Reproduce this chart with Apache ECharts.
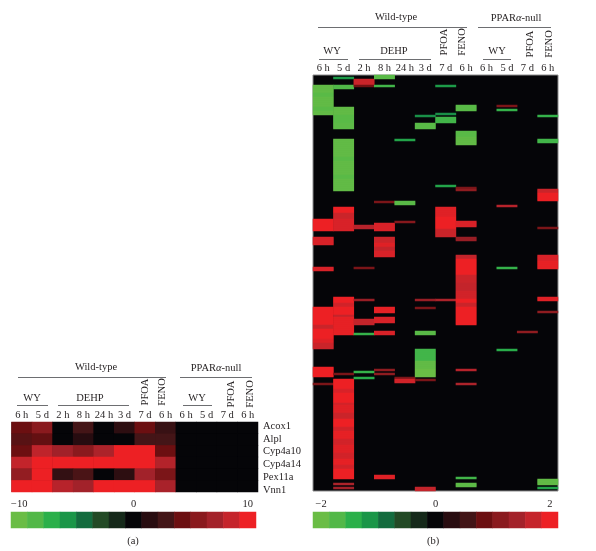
<!DOCTYPE html>
<html>
<head>
<meta charset="utf-8">
<style>
  html, body { margin: 0; padding: 0; background: #fff; }
  #main { width: 596px; height: 551px; }
</style>
</head>
<body>
<div id="main"></div>
<script src="https://cdn.jsdelivr.net/npm/echarts@6/dist/echarts.min.js"></script>
<script>
var timeLabels = ['6 h', '5 d', '2 h', '8 h', '24 h', '3 d', '7 d', '6 h', '6 h', '5 d', '7 d', '6 h'];
var geneLabels = ['Acox1', 'Alpl', 'Cyp4a10', 'Cyp4a14', 'Pex11a', 'Vnn1'];
var rampColors = ['#6abd45', '#52b848', '#2bb04a', '#1a9648', '#136c3e', '#224a25', '#15291a', '#050508',
  '#280c10', '#431517', '#6c0f11', '#8a1a1e', '#a3222a', '#c5242b', '#ed2024'];
var ticksA = ['\u221210', '', '', '', '', '', '', '0', '', '', '', '', '', '', '10'];
var ticksB = ['\u22122', '', '', '', '', '', '', '0', '', '', '', '', '', '', '2'];

// panel (a), the null columns are all zero
var acox1 = [4.3, 5.7, 0, 2.9, 0, 1.7, 4.3, 2.3, 0, 0, 0, 0];
var alpl = [3.6, 4, 0, 1.4, 0, 0, 2.9, 2.9, 0, 0, 0, 0];
var cyp4a10 = [4.3, 8.3, 7, 5.7, 7.5, 10, 10, 4.3, 0, 0, 0, 0];
var cyp4a14 = [8.5, 10, 10, 10, 10, 10, 10, 7.8, 0, 0, 0, 0];
var pex11a = [6.2, 10, 2, 3.1, 0, 1.7, 7.1, 5, 0, 0, 0, 0];
var vnn1 = [10, 10, 8, 7.1, 10, 10, 10, 7.4, 0, 0, 0, 0];

// panel (b), each entry: first row, last row, value
var ROWS_B = 208;
var wy6h = [[5, 8, -1.9], [9, 10, -1.8], [11, 15, -1.9], [16, 17, -1.8], [18, 19, -1.9], [72, 77, 2], [81, 84, 1.85], [96, 97, 1.85],
  [116, 124, 2], [125, 126, 1.75], [127, 131, 2], [132, 133, 1.9], [134, 136, 1.75], [146, 150, 2], [154, 154, 1]];
var wy5d = [[1, 1, -1.2], [5, 6, -1.7], [16, 19, -1.9], [20, 23, -1.8], [24, 26, -1.85], [32, 40, -1.9], [41, 42, -1.8], [43, 49, -1.9],
  [50, 51, -1.8], [52, 57, -1.9], [66, 68, 2], [69, 71, 1.75], [72, 77, 1.85], [111, 113, 2], [114, 115, 1.8], [116, 119, 2], [120, 120, 1.7],
  [121, 129, 1.95], [149, 149, 1], [152, 156, 2], [157, 158, 1.85], [159, 163, 2], [164, 164, 1.8], [165, 168, 1.9], [169, 171, 1.75],
  [172, 175, 2], [176, 177, 1.8], [178, 181, 1.95], [182, 184, 1.8], [185, 188, 1.9], [189, 191, 1.8], [192, 194, 1.95], [195, 196, 1.8],
  [197, 201, 2], [204, 204, 1.5], [206, 206, 1.4]];
var dehp2h = [[2, 4, 1.75], [5, 5, 0.9], [75, 76, 1.6], [96, 96, 1], [112, 112, 1.3], [122, 124, 1.7], [129, 129, -1.5], [148, 148, -1.5], [151, 151, -1.4]];
var dehp8h = [[0, 1, -1.8], [5, 5, -1.6], [63, 63, 1], [74, 77, 1.85], [81, 83, 1.75], [84, 85, 1.9], [86, 87, 1.7], [88, 90, 1.85],
  [116, 118, 1.95], [121, 123, 1.85], [128, 129, 1.85], [147, 147, 1.2], [149, 149, 1.2], [200, 201, 1.9]];
var dehp24h = [[32, 32, -1.3], [63, 64, -1.8], [73, 73, 1.1], [151, 151, 1], [152, 153, 1.8]];
var dehp3d = [[20, 20, -1.1], [24, 26, -1.8], [112, 112, 1.3], [116, 116, 1], [128, 129, -1.8], [137, 142, -1.6], [143, 146, -1.9], [147, 150, -2],
  [152, 152, 1], [206, 207, 1.7]];
var pfoa7d = [[5, 5, -1.2], [19, 19, -1.1], [21, 23, -1.6], [55, 55, -1.3], [66, 70, 1.9], [71, 76, 2], [77, 80, 1.75], [112, 112, 1.5]];
var feno6h = [[15, 17, -1.8], [28, 30, -1.8], [31, 34, -1.9], [56, 56, 1], [57, 57, 1.2], [73, 75, 1.85], [81, 82, 1.3], [90, 91, 1.7], [92, 99, 2],
  [100, 103, 1.75], [104, 107, 1.7], [108, 111, 1.8], [112, 113, 2], [114, 115, 1.75], [116, 124, 2], [147, 147, 1.6], [154, 154, 1.5],
  [201, 201, -1.6], [204, 205, -1.85]];
var null6h = [];
var null5d = [[15, 15, 1], [17, 17, -1.5], [65, 65, 1.6], [96, 96, -1.5], [137, 137, -1.4]];
var nullPfoa = [[128, 128, 1.2]];
var nullFeno = [[20, 20, -1.5], [32, 33, -1.6], [57, 58, 1.75], [59, 62, 2], [76, 76, 1], [90, 92, 1.85], [93, 96, 1.95], [111, 112, 1.9], [118, 118, 1.2],
  [202, 204, -1.9], [206, 206, -1.3]];
var columnsB = [wy6h, wy5d, dehp2h, dehp8h, dehp24h, dehp3d, pfoa7d, feno6h, null6h, null5d, nullPfoa, nullFeno];

var cellsA = [];
[acox1, alpl, cyp4a10, cyp4a14, pex11a, vnn1].forEach(function (row, y) {
  row.forEach(function (v, x) { cellsA.push([x, y, v]); });
});

var cellsB = [];
columnsB.forEach(function (runs, x) {
  runs.forEach(function (run) {
    for (var r = run[0]; r <= run[1]; r++) cellsB.push([x, r, run[2]]);
  });
});

// colour bars, one cell per step of the ramp
function rampCells(max) {
  return rampColors.map(function (c, i) { return [i, 0, -max + i * 2 * max / 14]; });
}

var serif = '"Liberation Serif", serif';
var ink = '#231f20';
var rowsB = [];
for (var r = 0; r < ROWS_B; r++) rowsB.push(r);

function hiddenAxis(grid, type, labels) {
  return {
    type: type, gridIndex: grid, data: labels, inverse: type === 'category',
    axisLine: { show: false }, axisTick: { show: false }, splitLine: { show: false },
    axisLabel: { show: false }
  };
}
function timeAxis(grid) {
  return {
    type: 'category', gridIndex: grid, position: 'top', data: timeLabels,
    axisLine: { show: false }, axisTick: { show: false }, splitLine: { show: false },
    axisLabel: { interval: 0, margin: 1.5, fontFamily: serif, fontSize: 10.5, color: ink }
  };
}
function rampAxis(grid, labels) {
  return {
    type: 'category', gridIndex: grid, position: 'top', data: labels,
    axisLine: { show: false }, axisTick: { show: false }, splitLine: { show: false },
    axisLabel: { interval: 0, margin: 2.5, fontFamily: serif, fontSize: 10.5, color: ink }
  };
}
function heat(xi, yi, data) {
  return {
    type: 'heatmap', xAxisIndex: xi, yAxisIndex: yi, data: data,
    progressive: 0, emphasis: { disabled: true }, itemStyle: { borderWidth: 0 }
  };
}

// header text and rules
function txt(x, y, s, rot) {
  var el = {
    type: 'text', x: x, y: y, silent: true,
    style: {
      text: s, fill: ink, font: '10.5px ' + serif, align: 'center', verticalAlign: 'middle',
      rich: { i: { fontStyle: 'italic', font: 'italic 10.5px ' + serif, fill: ink } }
    }
  };
  if (rot) el.rotation = Math.PI / 2;
  return el;
}
function rule(x1, x2, y) {
  return {
    type: 'line', silent: true,
    shape: { x1: x1, y1: y, x2: x2, y2: y },
    style: { stroke: '#6d6e71', lineWidth: 1 }
  };
}
function header(o) {
  return [
    txt(o.wild, o.topY, 'Wild-type'),
    txt(o.nullX, o.topY + 1, 'PPAR{i|\u03b1}-null'),
    rule(o.r1[0], o.r1[1], o.ruleY),
    rule(o.r2[0], o.r2[1], o.ruleY),
    txt(o.wy1, o.groupY, 'WY'),
    txt(o.dehp, o.groupY, 'DEHP'),
    txt(o.wy2, o.groupY, 'WY'),
    rule(o.g1[0], o.g1[1], o.groupRule),
    rule(o.g2[0], o.g2[1], o.groupRule),
    rule(o.g3[0], o.g3[1], o.groupRule),
    txt(o.pfoa1, o.rotY, 'PFOA', true),
    txt(o.feno1, o.rotY, 'FENO', true),
    txt(o.pfoa2, o.rotY + 2, 'PFOA', true),
    txt(o.feno2, o.rotY + 2, 'FENO', true)
  ];
}

var graphics = header({
  wild: 96, nullX: 216, topY: 367, ruleY: 377.5, r1: [18, 166], r2: [180, 252],
  wy1: 32, dehp: 90, wy2: 197, groupY: 398, groupRule: 405.5, g1: [17, 48], g2: [58, 129], g3: [183, 212],
  pfoa1: 145, feno1: 162, pfoa2: 231, feno2: 250, rotY: 392
}).concat(header({
  wild: 396, nullX: 516, topY: 17, ruleY: 27.5, r1: [318, 467], r2: [478, 551],
  wy1: 332, dehp: 394, wy2: 497, groupY: 51, groupRule: 59.5, g1: [319, 348], g2: [359, 431], g3: [483, 511],
  pfoa1: 444, feno1: 462, pfoa2: 530, feno2: 549, rotY: 42
})).concat([txt(133, 541, '(a)'), txt(433, 541, '(b)')]);

var chart = echarts.init(document.getElementById('main'), null, { renderer: 'canvas' });
chart.setOption({
  animation: false,
  backgroundColor: '#fff',
  grid: [
    { left: 11.5, top: 422, width: 246.5, height: 70, show: true, backgroundColor: '#050508', borderWidth: 0 },
    { left: 313, top: 75, width: 245, height: 416, show: true, backgroundColor: '#050508', borderColor: '#8c8c8c', borderWidth: 1 },
    { left: 11, top: 512, width: 245, height: 16 },
    { left: 313, top: 512, width: 245, height: 16 },
    // the gene names sit on a slightly wider pitch than the cells
    { left: 11.5, top: 419.6, width: 246.5, height: 76.8 }
  ],
  xAxis: [timeAxis(0), timeAxis(1), rampAxis(2, ticksA), rampAxis(3, ticksB), hiddenAxis(4, 'value')],
  yAxis: [
    hiddenAxis(0, 'category', geneLabels),
    hiddenAxis(1, 'category', rowsB),
    hiddenAxis(2, 'category', ['']),
    hiddenAxis(3, 'category', ['']),
    {
      type: 'category', gridIndex: 4, inverse: true, position: 'right', data: geneLabels,
      axisLine: { show: false }, axisTick: { show: false }, splitLine: { show: false },
      axisLabel: { interval: 0, margin: 5, align: 'left', fontFamily: serif, fontSize: 10.5, color: ink }
    }
  ],
  visualMap: [
    { type: 'continuous', show: false, seriesIndex: [0, 2], min: -10, max: 10, inRange: { color: rampColors } },
    { type: 'continuous', show: false, seriesIndex: [1, 3], min: -2, max: 2, inRange: { color: rampColors } }
  ],
  series: [
    heat(0, 0, cellsA),
    heat(1, 1, cellsB),
    heat(2, 2, rampCells(10)),
    heat(3, 3, rampCells(2))
  ],
  graphic: graphics
});
</script>
</body>
</html>
